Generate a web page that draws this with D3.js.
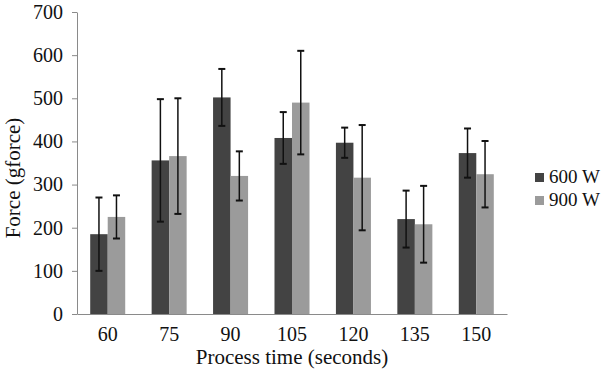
<!DOCTYPE html>
<html>
<head>
<meta charset="utf-8">
<script src="https://cdn.jsdelivr.net/npm/d3@7"></script>
<style>
  body { margin: 0; background: #fff; }
  text { font-family: "Liberation Serif", "Times New Roman", serif; fill: #111; }
</style>
</head>
<body>
<div id="chart"></div>
<script>
const times = ["60", "75", "90", "105", "120", "135", "150"];
const seriesNames = ["600 W", "900 W"];
const force600 = [185, 356, 502, 408, 397, 220, 373];
const err600 = [85, 142, 66, 60, 35, 66, 57];
const force900 = [225, 366, 320, 490, 316, 208, 324];
const err900 = [50, 134, 57, 120, 122, 89, 77];
const yTicks = [0, 100, 200, 300, 400, 500, 600, 700];

const colors = ["#434343", "#9b9b9b"];

const width = 601, height = 374;
const margin = { top: 12, right: 94, bottom: 60, left: 77 };
const innerW = width - margin.left - margin.right;
const innerH = height - margin.top - margin.bottom;

const rows = times.map((t, i) => ({
  time: t,
  vals: [
    { key: seriesNames[0], v: force600[i], e: err600[i] },
    { key: seriesNames[1], v: force900[i], e: err900[i] }
  ]
}));

const svg = d3.select("#chart").append("svg")
  .attr("width", width)
  .attr("height", height);

const g = svg.append("g")
  .attr("transform", `translate(${margin.left},${margin.top})`);

const x = d3.scaleBand().domain(times).range([0, innerW]).paddingInner(0.43).paddingOuter(0.215);
const x1 = d3.scaleBand().domain(seriesNames).range([0, x.bandwidth()]);
const y = d3.scaleLinear().domain([0, 700]).range([innerH, 0]);
const color = d3.scaleOrdinal().domain(seriesNames).range(colors);

// Bars
const groups = g.selectAll(".grp")
  .data(rows)
  .enter().append("g")
  .attr("transform", d => `translate(${x(d.time)},0)`);

groups.selectAll("rect")
  .data(d => d.vals)
  .enter().append("rect")
  .attr("x", d => x1(d.key))
  .attr("y", d => y(d.v))
  .attr("width", x1.bandwidth())
  .attr("height", d => innerH - y(d.v))
  .attr("fill", d => color(d.key));

// Error bars
const eb = groups.selectAll(".err")
  .data(d => d.vals)
  .enter().append("g")
  .attr("stroke", "#111")
  .attr("stroke-width", 1.5);

eb.append("line")
  .attr("x1", d => x1(d.key) + x1.bandwidth() / 2)
  .attr("x2", d => x1(d.key) + x1.bandwidth() / 2)
  .attr("y1", d => y(d.v + d.e))
  .attr("y2", d => y(d.v - d.e));

eb.append("line")
  .attr("x1", d => x1(d.key) + x1.bandwidth() / 2 - 3.5)
  .attr("x2", d => x1(d.key) + x1.bandwidth() / 2 + 3.5)
  .attr("y1", d => y(d.v + d.e))
  .attr("y2", d => y(d.v + d.e))
  .attr("stroke-width", 2);

eb.append("line")
  .attr("x1", d => x1(d.key) + x1.bandwidth() / 2 - 3.5)
  .attr("x2", d => x1(d.key) + x1.bandwidth() / 2 + 3.5)
  .attr("y1", d => y(d.v - d.e))
  .attr("y2", d => y(d.v - d.e))
  .attr("stroke-width", 2);

// Axes
const yAxis = g.append("g")
  .call(d3.axisLeft(y).tickValues(yTicks).tickSize(5).tickSizeOuter(0).tickPadding(9));
yAxis.select(".domain").attr("stroke", "#8a8a8a");
yAxis.selectAll(".tick line").attr("stroke", "#8a8a8a");
yAxis.selectAll("text").style("font-size", "20px").attr("fill", "#111")
  .style("font-family", "'Liberation Serif', serif");

const xAxis = g.append("g")
  .attr("transform", `translate(0,${innerH})`)
  .call(d3.axisBottom(x).tickSize(0).tickPadding(13));
xAxis.select(".domain").attr("stroke", "#8a8a8a");
xAxis.selectAll("text").style("font-size", "20px").attr("fill", "#111")
  .style("font-family", "'Liberation Serif', serif");

// Axis titles
svg.append("text")
  .attr("x", 292)
  .attr("y", 364)
  .attr("text-anchor", "middle")
  .style("font-size", "21px")
  .text("Process time (seconds)");

svg.append("text")
  .attr("transform", "rotate(-90)")
  .attr("x", -178)
  .attr("y", 20)
  .attr("text-anchor", "middle")
  .style("font-size", "21px")
  .text("Force (gforce)");

// Legend
const legend = svg.append("g").attr("transform", "translate(535,168)");
seriesNames.forEach((s, i) => {
  const row = legend.append("g").attr("transform", `translate(0,${i * 23})`);
  row.append("rect")
    .attr("width", 9).attr("height", 9)
    .attr("y", 5)
    .attr("fill", color(s));
  row.append("text")
    .attr("x", 14)
    .attr("y", 15)
    .style("font-size", "19px")
    .text(s);
});
</script>
</body>
</html>
